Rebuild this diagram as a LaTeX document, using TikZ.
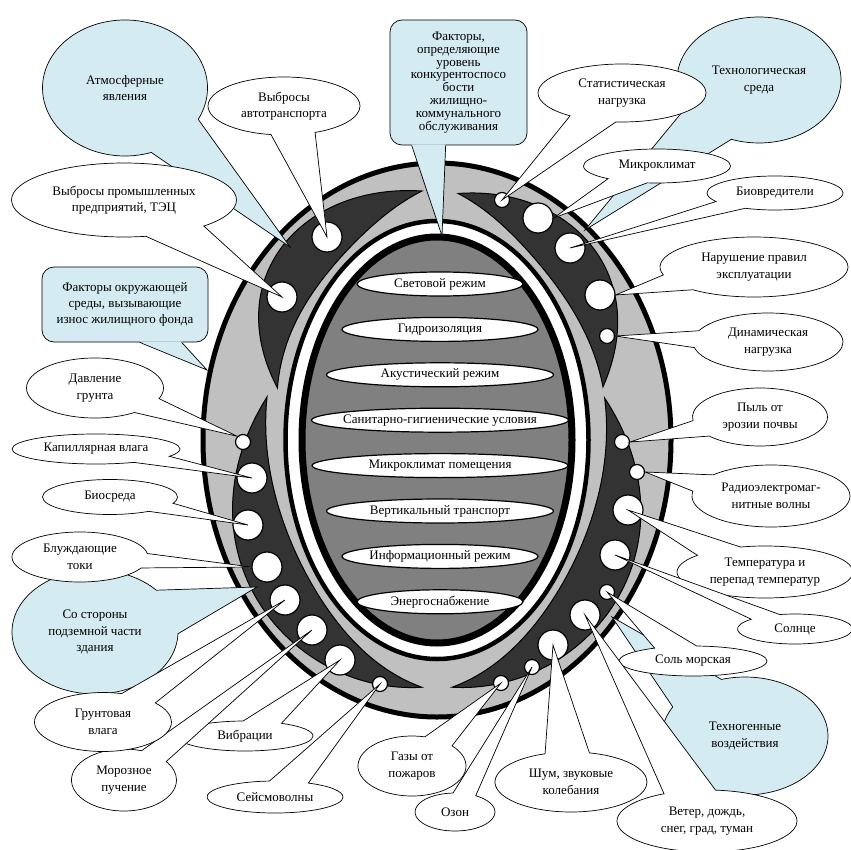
\documentclass[tikz,border=0pt]{standalone}
\usepackage{fontspec}
\setmainfont{Liberation Serif}
\usetikzlibrary{shapes.geometric,shapes.callouts,calc}

\definecolor{ringgray}{RGB}{192,192,192}
\definecolor{bandgray}{RGB}{51,51,51}
\definecolor{coregray}{RGB}{128,128,128}
\definecolor{noteblue}{RGB}{213,235,242}

\tikzset{
  hole/.style={circle,draw,fill=white,line width=1.2pt,inner sep=0pt,minimum size=30pt},
  smallhole/.style={hole,minimum size=15pt},
  bubble/.style={ellipse callout,draw,fill=white,line width=0.7pt,align=center,
    inner xsep=-10pt,inner ysep=-4pt,callout pointer arc=34,
    font=\rmfamily\fontsize{13}{16.5}\selectfont},
  bluebubble/.style={bubble,fill=noteblue,callout pointer arc=44},
  notebox/.style={rectangle,rounded corners=12pt,draw,fill=noteblue,line width=0.7pt,
    align=center,inner sep=0pt,font=\rmfamily\fontsize{13}{16}\selectfont},
  mode/.style={ellipse,draw,fill=white,line width=1.2pt,inner xsep=-30pt,inner ysep=0pt,
    minimum height=24pt,font=\rmfamily\fontsize{13}{14}\selectfont},
  band/.style={fill=bandgray,draw=black,line width=1pt},
  declare function={
    stip(\x,\p,\q)=\p+(\q-\p)*\x;
    sout(\x,\p,\q)=stip(\x,\p,\q)-(stip(\x,\p,\q)-0.13)*sin(180*\x);
    sinn(\x,\p,\q)=stip(\x,\p,\q)+(0.87-stip(\x,\p,\q))*sin(180*\x);
    ringx(\s,\t)=437+(234-82.5*\s)*cos(\t);
    ringy(\s,\t)=440-(277-58*\s)*sin(\t);
  }
}

\begin{document}
\begin{tikzpicture}[x=1pt,y=-1pt]
  \useasboundingbox[fill=white] (0,0) rectangle (851,850);

  \draw[fill=ringgray,line width=5pt] (437,440) ellipse [x radius=234, y radius=277];
  \foreach \ta/\tb/\sa/\sb in {166.8/94.4/0.85/0.47, 83.7/13.2/0.5/0.77,
                               10.4/-85.5/0.77/0.5, -94.5/-190.6/0.5/0.74}
    \draw[band] plot[domain=0:1,samples=60]
        ({ringx(sout(\x,\sa,\sb),(\ta)+((\tb)-(\ta))*\x)},{ringy(sout(\x,\sa,\sb),(\ta)+((\tb)-(\ta))*\x)})
      -- plot[domain=1:0,samples=60]
        ({ringx(sinn(\x,\sa,\sb),(\ta)+((\tb)-(\ta))*\x)},{ringy(sinn(\x,\sa,\sb),(\ta)+((\tb)-(\ta))*\x)})
      -- cycle;
  \draw[fill=white,line width=4.5pt] (437,440) ellipse [x radius=151.5, y radius=219];
  \draw[fill=coregray,line width=7pt] (437,440) ellipse [x radius=135, y radius=203];

  \foreach \w/\txt [count=\i] in {166/Световой режим, 196/Гидроизоляция,
      227/Акустический режим, 257/Санитарно-гигиенические условия,
      256/Микроклимат помещения, 227/Вертикальный транспорт,
      196/Информационный режим, 166/Энергоснабжение}
    \node[mode,minimum width=\w pt] (mode\i) at (440,{284+45.4*(\i-1)}) {\txt};

  \foreach \name/\hx/\hy/\kind in {h1/327/237/hole, h2/282/297/hole,
      h3/502/200/smallhole, h4/538/218/hole, h5/570/248/hole, h6/600/295/hole,
      h7/607/336/smallhole, h8/622/442/smallhole, h9/637/472/smallhole,
      h10/628/510/hole, h11/615/555/hole, h12/607/592/smallhole,
      h13/585/615/hole, h14/553/645/hole, h15/532/667/smallhole,
      h16/501/683/smallhole, h17/380/684/smallhole, h18/340/660/hole,
      h19/312/630/hole, h20/285/600/hole, h21/267/567/hole, h22/248/525/hole,
      h23/252/478/hole, h24/243/442/smallhole}
    \node[\kind] (\name) at (\hx,\hy) {};

  \coordinate (atmtip) at (290,247);
  \coordinate (techtip) at (585,230);
  \coordinate (undertip) at (257,587);
  \coordinate (mantip) at (612,617);
  \coordinate (envtip) at (207,370);
  \coordinate (comptip) at (442,236);

  \node[bluebubble,minimum width=165pt,minimum height=136pt,callout absolute pointer={(atmtip)}]
    (atm) at (125,88) {Атмосферные\\явления};
  \node[bluebubble,minimum width=164pt,minimum height=126pt,callout absolute pointer={(techtip)}]
    (tech) at (759,80) {Технологическая\\среда};
  \node[bluebubble,minimum width=166pt,minimum height=124pt,callout absolute pointer={(undertip)}]
    (under) at (95,632) {Со стороны\\подземной части\\здания};
  \node[bluebubble,minimum width=166pt,minimum height=118pt,callout absolute pointer={(mantip)}]
    (man) at (745,736) {Техногенные\\воздействия};

  \node[notebox,minimum width=166pt,minimum height=75pt] (envbox) at (125,304.5)
    {Факторы окружающей\\среды, вызывающие\\износ жилищного фонда};
  \path (envbox.south west) ++(98pt,0pt) coordinate (enva) ++(42pt,0pt) coordinate (envb);
  \fill[noteblue] ([yshift=1pt]enva) -- (envtip) -- ([yshift=1pt]envb) -- cycle;
  \draw[line width=0.7pt] (enva) -- (envtip) -- (envb);

  \node[notebox,font=\rmfamily\fontsize{13}{12.9}\selectfont,minimum width=137pt,minimum height=125pt]
    (compbox) at (458.5,82.5) {Факторы,\\определяющие\\уровень\\конкурентоспосо\\бости\\жилищно-\\коммунального\\обслуживания};
  \path (compbox.south west) ++(22pt,0pt) coordinate (compa) ++(34pt,0pt) coordinate (compb);
  \fill[noteblue] ([yshift=1pt]compa) -- (comptip) -- ([yshift=1pt]compb) -- cycle;
  \draw[line width=0.7pt] (compa) -- (comptip) -- (compb);

  \node[bubble,minimum width=152pt,minimum height=58pt,callout absolute pointer={(h1.center)}]
    (auto) at (284,106) {Выбросы\\автотранспорта};
  \node[bubble,minimum width=225pt,minimum height=74pt,callout absolute pointer={(h2.center)}]
    (plant) at (124,200) {Выбросы промышленных\\предприятий, ТЭЦ};
  \node[bubble,minimum width=168pt,minimum height=58pt,callout absolute pointer={(h3.center)}]
    (static) at (622,93) {Статистическая\\нагрузка};
  \node[bubble,minimum width=147pt,minimum height=34pt,callout absolute pointer={(h4.east)}]
    (micro) at (657,166) {Микроклимат};
  \node[bubble,minimum width=136pt,minimum height=34pt,callout absolute pointer={(h5.center)}]
    (bio) at (775,193) {Биовредители};
  \node[bubble,minimum width=188pt,minimum height=60pt,callout absolute pointer={(h6.east)}]
    (rules) at (754,267) {Нарушение правил\\эксплуатации};
  \node[bubble,minimum width=150pt,minimum height=58pt,callout absolute pointer={(h7.east)}]
    (dyn) at (768,342) {Динамическая\\нагрузка};
  \node[bubble,minimum width=135pt,minimum height=58pt,callout absolute pointer={(h8.east)}]
    (dust) at (760,417) {Пыль от\\эрозии почвы};
  \node[bubble,minimum width=158pt,minimum height=62pt,callout absolute pointer={(h9.east)}]
    (radio) at (771,496) {Радиоэлектромаг-\\нитные волны};
  \node[bubble,minimum width=176pt,minimum height=52pt,callout absolute pointer={(h10.center)}]
    (temp) at (765,572) {Температура и\\перепад температур};
  \node[bubble,minimum width=115pt,minimum height=30pt,callout absolute pointer={(h11.center)}]
    (sun) at (795,629) {Солнце};
  \node[bubble,minimum width=148pt,minimum height=30pt,callout absolute pointer={(h12.center)}]
    (salt) at (693,661) {Соль морская};
  \node[bubble,minimum width=180pt,minimum height=62pt,callout absolute pointer={(h13.center)}]
    (wind) at (707,821) {Ветер, дождь,\\снег, град, туман};
  \node[bubble,minimum width=152pt,minimum height=60pt,callout absolute pointer={(h14.center)}]
    (noise) at (571,782) {Шум, звуковые\\колебания};
  \node[bubble,minimum width=80pt,minimum height=38pt,callout absolute pointer={(h15.center)}]
    (ozone) at (455,812) {Озон};
  \node[bubble,minimum width=108pt,minimum height=60pt,callout absolute pointer={(h16.center)}]
    (fire) at (412,766) {Газы от\\пожаров};
  \node[bubble,minimum width=136pt,minimum height=32pt,callout absolute pointer={(h17.center)}]
    (seism) at (275,797) {Сейсмоволны};
  \node[bubble,minimum width=136pt,minimum height=30pt,callout absolute pointer={(h18.center)}]
    (vibr) at (245,736) {Вибрации};
  \node[bubble,minimum width=105pt,minimum height=62pt,callout absolute pointer={(h19.center)}]
    (frost) at (124,780) {Морозное\\пучение};
  \node[bubble,minimum width=137pt,minimum height=59pt,callout absolute pointer={(h20.center)}]
    (ground) at (103,722) {Грунтовая\\влага};
  \node[bubble,minimum width=136pt,minimum height=50pt,callout absolute pointer={(h21.west)}]
    (stray) at (80,557) {Блуждающие\\токи};
  \node[bubble,minimum width=135pt,minimum height=35pt,callout absolute pointer={(h22.center)}]
    (biosoil) at (110,497) {Биосреда};
  \node[bubble,minimum width=168pt,minimum height=30pt,callout absolute pointer={(h23.center)}]
    (capil) at (96,449) {Капиллярная влага};
  \node[bubble,minimum width=137pt,minimum height=60pt,callout absolute pointer={(h24.north west)}]
    (press) at (95,388) {Давление\\грунта};
\end{tikzpicture}
\end{document}
